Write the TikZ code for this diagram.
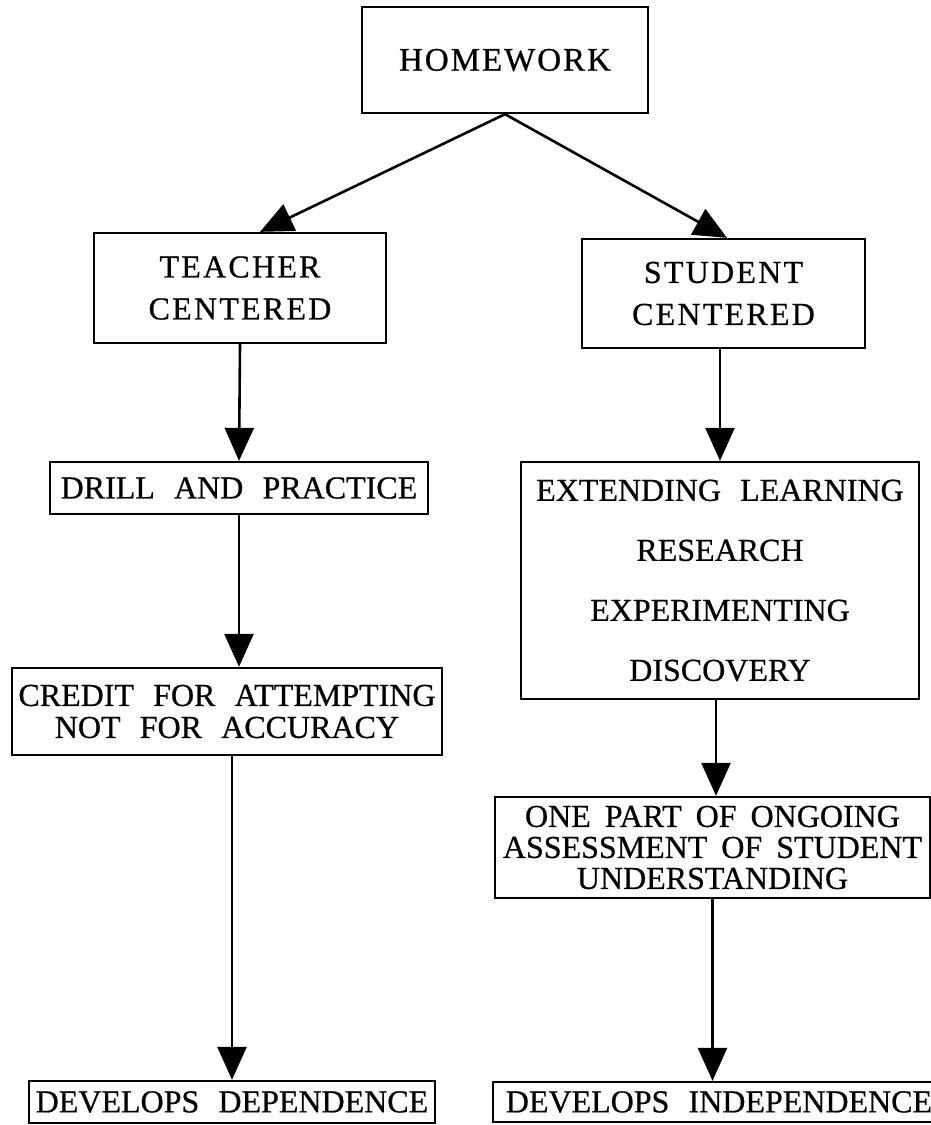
\documentclass[tikz,border=0pt]{standalone}
\usepackage{fontspec}
\setmainfont{Liberation Serif}[WordSpace=2.4,FakeBold=0.6]
\usetikzlibrary{arrows.meta,calc}
\newcommand\narrowsp{\spaceskip 14pt\relax}
\begin{document}
\begin{tikzpicture}[x=1pt,y=-1pt,
  box/.style={draw, line width=2.3pt, inner sep=0pt, align=center, font=\fontsize{32}{32}\selectfont},
  wide/.style={font=\fontsize{32}{42}\selectfont\addfontfeature{LetterSpace=7}},
  arr/.style={line width=2.6pt, -{Triangle[length=33pt,width=29pt]}}]
\useasboundingbox[fill=white] (0,0) rectangle (931,1125);
\node[box, minimum width=286pt, minimum height=106pt, font=\fontsize{33}{33}\selectfont\addfontfeature{LetterSpace=6}] (hw) at (505,60) {HOMEWORK};
\node[box, wide, minimum width=292pt, minimum height=110pt] (teacher) at (240,288) {TEACHER\\CENTERED};
\node[box, wide, minimum width=283pt, minimum height=109pt] (student) at (723.5,293.5) {STUDENT\\CENTERED};
\node[box, minimum width=378pt, minimum height=52pt] (drill) at (239,488) {DRILL AND PRACTICE};
\node[box, minimum width=430pt, minimum height=87pt] (credit) at (227,711.5) {CREDIT FOR ATTEMPTING\\NOT FOR ACCURACY};
\node[box, minimum width=398pt, minimum height=237pt, font=\fontsize{32}{60}\selectfont] (extend) at (720,580.5) {EXTENDING LEARNING\\RESEARCH\\EXPERIMENTING\\DISCOVERY};
\node[box, minimum width=435pt, minimum height=101pt, font=\fontsize{32}{31}\selectfont\narrowsp] (onepart) at (712.5,847.5) {ONE PART OF ONGOING\\ASSESSMENT OF STUDENT\\UNDERSTANDING};
\node[box, minimum width=406pt, minimum height=42pt] (dep) at (232,1102) {DEVELOPS DEPENDENCE};
\node[box, minimum width=452pt, minimum height=40pt] (indep) at (719,1102) {DEVELOPS INDEPENDENCE};

\draw[arr] (hw.south) -- ([xshift=20pt]teacher.north);
\draw[arr] (hw.south) -- ([xshift=3.5pt]student.north);
\draw[arr] (teacher.south) -- (drill.north);
\draw[arr] (drill.south) -- (drill.south |- credit.north);
\draw[arr] (dep.north |- credit.south) -- (dep.north);
\draw[arr] (extend.north |- student.south) -- (extend.north);
\draw[arr] ([xshift=-4pt]extend.south) -- ([xshift=-4pt]extend.south |- onepart.north);
\draw[arr] (onepart.south) -- (onepart.south |- indep.north);
\end{tikzpicture}
\end{document}
